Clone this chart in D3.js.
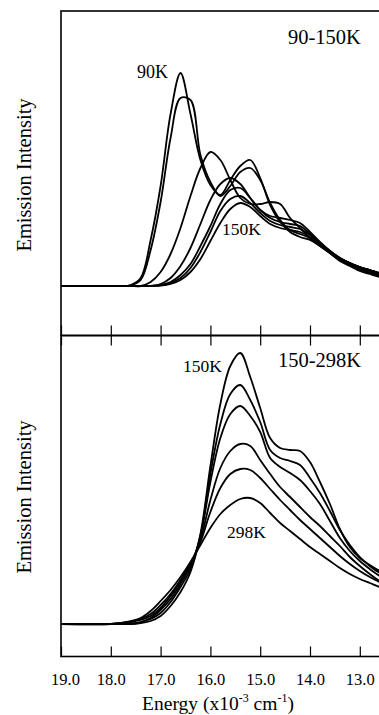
<!DOCTYPE html>
<html>
<head>
<meta charset="utf-8">
<script src="https://cdn.jsdelivr.net/npm/d3@7"></script>
<style>
  body { margin: 0; background: #fff; }
  text { font-family: "Liberation Serif", "Times New Roman", serif; fill: #000; }
</style>
</head>
<body>
<svg id="chart" width="379" height="715"></svg>
<script>
// Energy grid (x10^-3 cm^-1), shared by every curve
const energy = [19.0, 18.0, 17.8, 17.6, 17.4, 17.2, 17.0, 16.8, 16.6, 16.4, 16.2, 16.0, 15.8, 15.6, 15.4,
                15.2, 15.0, 14.8, 14.6, 14.4, 14.2, 14.0, 13.8, 13.6, 13.4, 13.2, 13.0, 12.8, 12.6, 12.4];
const ticks = [19, 18, 17, 16, 15, 14, 13, 12];
const tickLabels = [19, 18, 17, 16, 15, 14, 13];

// Top panel, 90-150K (arbitrary intensity units)
const lowTemps = ["90K", "100K", "110K", "120K", "130K", "140K", "150K"];
const t90  = [0, 0, 0, 0.5, 4, 23, 50, 86, 106.5, 86, 63, 50.5, 45.5, 53, 60, 63, 54, 40.5, 32, 27, 24.5, 23, 20, 16.5, 12.5, 10, 7.5, 6, 4.5, 3.5];
const t100 = [0, 0, 0, 0.3, 3, 18, 42, 74, 94, 93, 65.5, 52, 45, 50, 57, 59, 53, 41.5, 33, 28, 26, 24, 20.5, 16.5, 13, 10.5, 8, 6.5, 5, 4];
const t110 = [0, 0, 0, 0, 0, 2, 7, 16, 29, 45, 59, 67, 63, 53, 44, 41, 41, 42, 41, 34, 29, 24, 20, 16.5, 13, 10.5, 8.5, 7, 5.5, 4.5];
const t120 = [0, 0, 0, 0, 0, 0, 1, 4, 10, 19, 31, 43, 51, 54, 51, 44, 38, 35, 34, 33, 31.5, 27, 22, 17.5, 13.5, 11, 9, 7.5, 6, 5];
const t130 = [0, 0, 0, 0, 0, 0, 0.5, 2, 5.5, 11, 20, 30, 41, 48, 49, 44, 38, 34, 32, 31, 30, 26, 21.5, 17.5, 14, 11.5, 9.5, 8, 6.5, 5.5];
const t140 = [0, 0, 0, 0, 0, 0, 0.3, 1.5, 4, 9, 17, 27, 37.5, 43.5, 45, 41.5, 36.5, 32.5, 30.5, 29.5, 28.5, 25.5, 21.5, 17.5, 14, 11.5, 9.5, 8, 6.5, 5.5];
const t150 = [0, 0, 0, 0, 0, 0, 0.2, 1, 3, 7, 13.5, 22.5, 31.5, 38.5, 41.5, 39.5, 35, 31, 29, 28, 27, 24.5, 21, 17.5, 14, 11.5, 9.5, 8, 6.5, 5.5];

// Bottom panel, 150-298K
const highTemps = ["150K", "180K", "210K", "240K", "270K", "298K"];
const h150 = [0, 0, 0, 0, 0.5, 1.5, 4, 9, 16, 26, 45, 79, 110, 129, 135.5, 123.5, 108, 93, 88, 87, 86.5, 81, 71, 60, 47.5, 38.5, 33, 29.5, 26.5, 24];
const h180 = [0, 0, 0, 0, 0.8, 2.5, 5.5, 11, 18.5, 27.5, 44, 75, 100, 115, 119.5, 112, 101, 87, 83, 81.5, 79.5, 73, 65.5, 56.5, 47, 39.5, 33.5, 29, 25.5, 23];
const h210 = [0, 0, 0, 0.2, 1, 3, 7, 12.5, 20, 29, 44, 71, 93, 105, 109, 104, 96, 83, 78.5, 75.5, 72, 66.5, 60, 51.5, 43, 36.5, 31.5, 27.5, 24, 21.5];
const h240 = [0, 0, 0.3, 1, 2, 4, 8, 14, 21, 29.5, 42, 62, 78, 86.5, 90, 89, 82, 75, 68.5, 63.5, 58.5, 53.5, 49, 44, 39, 33.5, 29, 25, 21.5, 19];
const h270 = [0, 0, 0.5, 1.2, 2.5, 5, 9.5, 15, 22, 30.5, 41, 56, 68, 75, 77.5, 77, 73, 67.5, 62, 57, 52, 47.5, 43, 38.5, 34, 30, 26.5, 23.5, 21, 19];
const h298 = [0, 0, 0.5, 1.5, 3, 6.5, 11.5, 17, 23.5, 31, 39.5, 48, 55, 59.5, 62.5, 63, 60.5, 55.5, 50.5, 46.5, 42.5, 38.5, 35, 31.5, 28, 25, 22.5, 20.5, 18.5, 17];

const topSeries = [t90, t100, t110, t120, t130, t140, t150];
const botSeries = [h150, h180, h210, h240, h270, h298];

const svg = d3.select("#chart");

// Scales (energy runs high to low, left to right)
const x = d3.scaleLinear().domain([19, 12]).range([61, 409.6]);
const yTop = d3.scaleLinear().domain([-24.75, 137.5]).range([335.5, 11]);
const yBot = d3.scaleLinear().domain([-16.25, 144.25]).range([656.5, 335.5]);

const lineFor = y => d3.line()
    .x((d, i) => x(energy[i]))
    .y(d => y(d))
    .curve(d3.curveCatmullRom.alpha(0.5));

// Curves
svg.append("g").selectAll("path")
  .data(topSeries)
  .enter().append("path")
    .attr("d", lineFor(yTop))
    .attr("fill", "none")
    .attr("stroke", "#000")
    .attr("stroke-width", 1.8);

svg.append("g").selectAll("path")
  .data(botSeries)
  .enter().append("path")
    .attr("d", lineFor(yBot))
    .attr("fill", "none")
    .attr("stroke", "#000")
    .attr("stroke-width", 1.8);

// Panel frames
[[11, 335.5], [335.5, 656.5]].forEach(([y0, y1]) => {
  svg.append("rect")
    .attr("x", 61).attr("y", y0)
    .attr("width", 400).attr("height", y1 - y0)
    .attr("fill", "none")
    .attr("stroke", "#000")
    .attr("stroke-width", 1.6);
});

// Inward ticks
const styleAxis = g => {
  g.select(".domain").remove();
  g.selectAll(".tick line").attr("stroke", "#000").attr("stroke-width", 1.2);
};

svg.append("g")
    .attr("transform", "translate(0,335.5)")
    .call(d3.axisBottom(x).tickValues(ticks).tickSize(-10).tickFormat(""))
    .call(styleAxis);

svg.append("g")
    .attr("transform", "translate(0,335.5)")
    .call(d3.axisTop(x).tickValues(ticks).tickSize(-10).tickFormat(""))
    .call(styleAxis);

const xAxis = svg.append("g")
    .attr("transform", "translate(0,656.5)")
    .call(d3.axisBottom(x).tickValues(tickLabels).tickSize(-10).tickPadding(17).tickFormat(d3.format(".1f")))
    .call(styleAxis)
    .attr("font-size", 16.5)
    .attr("font-family", null);
xAxis.selectAll(".tick text").filter(d => d === 19).attr("dx", 4);

// Axis titles
const title = svg.append("text")
    .attr("x", 218).attr("y", 710)
    .attr("text-anchor", "middle")
    .attr("font-size", 19.5);
title.append("tspan").text("Energy (x10");
title.append("tspan").attr("font-size", 12).attr("dy", -8).text("-3");
title.append("tspan").attr("dy", 8).text(" cm");
title.append("tspan").attr("font-size", 12).attr("dy", -8).text("-1");
title.append("tspan").attr("dy", 8).text(")");

[175, 497].forEach(cy => {
  svg.append("text")
    .attr("transform", `translate(31,${cy}) rotate(-90)`)
    .attr("text-anchor", "middle")
    .attr("font-size", 20.5)
    .text("Emission Intensity");
});

// Annotations
const notes = [
  {t: "90-150K", x: 288, y: 44, s: 20.5},
  {t: lowTemps[0], x: 137, y: 78, s: 18},
  {t: lowTemps[6], x: 222, y: 235, s: 17.5},
  {t: "150-298K", x: 278, y: 367, s: 20.5},
  {t: highTemps[0], x: 183, y: 372, s: 17.5},
  {t: highTemps[5], x: 227, y: 538, s: 17.5}
];
svg.append("g").selectAll("text")
  .data(notes)
  .enter().append("text")
    .attr("x", d => d.x).attr("y", d => d.y)
    .attr("font-size", d => d.s)
    .text(d => d.t);
</script>
</body>
</html>
